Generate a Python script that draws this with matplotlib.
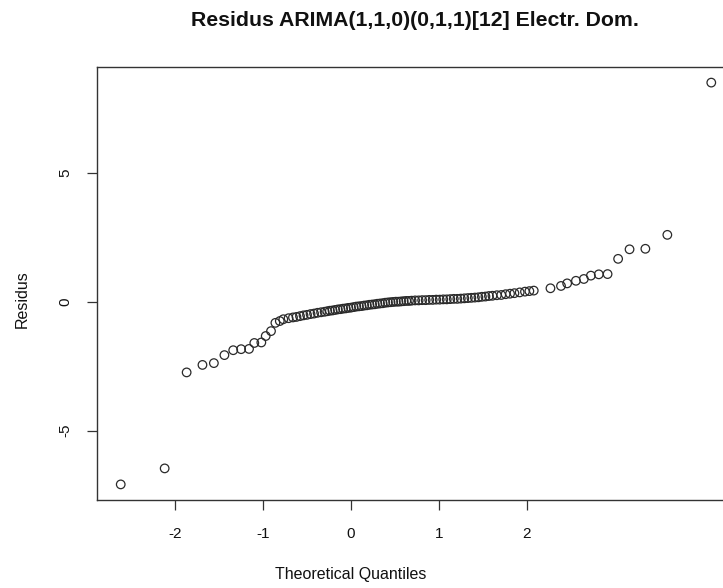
import matplotlib
matplotlib.use("Agg")
import matplotlib.pyplot as plt
import matplotlib.transforms as mtransforms

plt.rcParams['font.family'] = ['Liberation Sans', 'DejaVu Sans']

title = "Residus ARIMA(1,1,0)(0,1,1)[12] Electr. Dom."
xlabel = "Theoretical Quantiles"
ylabel = "Residus"

# lower tail
x_low = [-2.62, -2.12, -1.87, -1.69, -1.56, -1.44, -1.34, -1.25, -1.16, -1.10,
         -1.02, -0.97, -0.91, -0.86, -0.81, -0.77, -0.71]
y_low = [-7.08, -6.46, -2.74, -2.45, -2.38, -2.07, -1.88, -1.84, -1.83, -1.60,
         -1.58, -1.33, -1.14, -0.82, -0.75, -0.68, -0.64]

# dense central part
x_mid = [-0.66, -0.62, -0.58, -0.54, -0.50, -0.46, -0.42, -0.38, -0.34, -0.30,
         -0.27, -0.24, -0.21, -0.18, -0.15, -0.12, -0.09, -0.06, -0.03, 0.00,
         0.03, 0.06, 0.09, 0.12, 0.15, 0.18, 0.21, 0.24, 0.27, 0.30,
         0.33, 0.36, 0.39, 0.42, 0.45, 0.48, 0.51, 0.54, 0.57, 0.60,
         0.63, 0.66, 0.69, 0.73, 0.77, 0.81, 0.85, 0.89, 0.93, 0.97,
         1.01, 1.05, 1.09, 1.13, 1.17, 1.21, 1.25, 1.29, 1.33, 1.37,
         1.41, 1.45, 1.49, 1.53, 1.57, 1.61, 1.66, 1.71, 1.76, 1.81,
         1.86, 1.92, 1.98, 2.03]
y_mid = [-0.61, -0.59, -0.56, -0.53, -0.51, -0.48, -0.46, -0.43, -0.41, -0.39,
         -0.37, -0.35, -0.34, -0.32, -0.30, -0.29, -0.27, -0.26, -0.24, -0.23,
         -0.21, -0.19, -0.18, -0.17, -0.15, -0.14, -0.12, -0.11, -0.10, -0.08,
         -0.07, -0.06, -0.04, -0.03, -0.02, -0.01, 0.00, 0.00, 0.01, 0.02,
         0.03, 0.03, 0.04, 0.05, 0.05, 0.06, 0.06, 0.07, 0.07, 0.08,
         0.08, 0.09, 0.09, 0.10, 0.11, 0.11, 0.12, 0.13, 0.14, 0.15,
         0.16, 0.17, 0.19, 0.20, 0.22, 0.23, 0.25, 0.26, 0.29, 0.31,
         0.33, 0.36, 0.39, 0.41]

# upper tail
x_high = [2.08, 2.27, 2.39, 2.46, 2.56, 2.65, 2.73, 2.82, 2.92, 3.04,
          3.17, 3.35, 3.60, 4.10]
y_high = [0.43, 0.52, 0.61, 0.71, 0.81, 0.88, 1.01, 1.06, 1.07, 1.66,
          2.03, 2.05, 2.59, 8.49]

x_ticks = [-2, -1, 0, 1, 2]
y_ticks = [-5, 0, 5]

W, H = 723, 588
fig = plt.figure(figsize=(W / 100, H / 100), dpi=100)
left, right, top, bottom = 97, 735, 66.6, 500.4
ax = fig.add_axes([left / W, 1 - bottom / H, (right - left) / W, (bottom - top) / H])

xs = x_low + x_mid + x_high
ys = y_low + y_mid + y_high
ax.scatter(xs, ys, s=38, facecolors='none', edgecolors='#2a2a2a', linewidths=0.9)

ax.set_xlim(-2.89, 4.37)
ax.set_ylim(-7.70, 9.11)
ax.set_xticks(x_ticks)
ax.set_xticklabels([str(t) for t in x_ticks])
ax.set_yticks(y_ticks)
ax.set_yticklabels([str(t) for t in y_ticks], rotation=90, va='center')
ax.tick_params(axis='both', direction='out', length=7.5, width=0.9, color='#333333',
               labelsize=11, labelcolor='#111111')
ax.tick_params(axis='x', pad=12)
ax.tick_params(axis='y', pad=10)
for s in ax.spines.values():
    s.set_color('#333333')
    s.set_linewidth(1.0)

fig.text(415 / W, 1 - 21 / H, title, ha='center', va='center', fontsize=15.3,
         fontweight='bold', color='#111111')
trans = mtransforms.blended_transform_factory(ax.transData, fig.transFigure)
ax.text(0, 1 - 575 / H, xlabel, transform=trans, ha='center', va='center',
        fontsize=11.5, color='#111111')
fig.text(22 / W, 1 - 299 / H, ylabel, rotation=90, ha='center', va='center',
         fontsize=11.5, color='#111111')

fig.savefig("out.png", dpi=100)
